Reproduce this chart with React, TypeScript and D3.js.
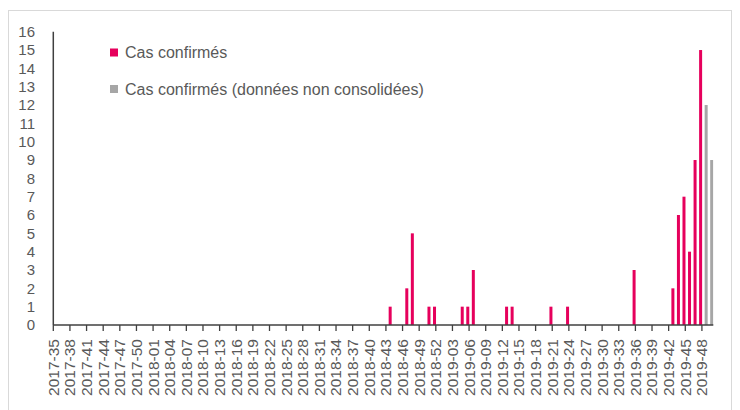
import React from "react";
import * as d3 from "d3";

const WIDTH = 740;
const HEIGHT = 410;

// weekly categories, 2017-35 .. 2019-50
const YEAR_SPANS: [number, number, number][] = [
  [2017, 35, 52],
  [2018, 1, 52],
  [2019, 1, 50],
];
const weeks: string[] = YEAR_SPANS.flatMap(([y, a, b]) =>
  d3.range(a, b + 1).map((w) => `${y}-${String(w).padStart(2, "0")}`)
);

// confirmed cases (non-zero weeks)
const confirmedWeeks = [
  "2018-44", "2018-47", "2018-48", "2018-51", "2018-52",
  "2019-05", "2019-06", "2019-07", "2019-13", "2019-14",
  "2019-21", "2019-24", "2019-36", "2019-43", "2019-44",
  "2019-45", "2019-46", "2019-47", "2019-48",
];
const confirmedValues = [1, 2, 5, 1, 1, 1, 1, 3, 1, 1, 1, 1, 3, 2, 6, 7, 4, 9, 15];

// confirmed cases, non consolidated data
const provisionalWeeks = ["2019-49", "2019-50"];
const provisionalValues = [12, 9];

const yTicks = d3.range(0, 17);
const legendLabels = ["Cas confirmés", "Cas confirmés (données non consolidées)"];

const PINK = "#E6005C";
const GREY = "#A6A6A6";
const TEXT = "#595959";
const FONT = "'Liberation Sans', Arial, sans-serif";

export default function App() {
  const x = d3.scalePoint<string>().domain(weeks).range([53.3, 713]);
  const y = d3.scaleLinear().domain([0, 16]).range([325, 31.7]);
  const barW = 3;
  const barOff = -2.8;

  const tickWeeks = weeks.filter((_, i) => i % 3 === 0);

  return (
    <svg
      width={WIDTH}
      height={HEIGHT}
      style={{ position: "absolute", left: 0, top: 0 }}
      fontFamily={FONT}
    >
      <rect x={8.5} y={10.5} width={723} height={405} fill="#fff" stroke="#D9D9D9" />

      <clipPath id="plot">
        <rect x={53} y={0} width={660.5} height={326} />
      </clipPath>

      <g clipPath="url(#plot)">
        {confirmedWeeks.map((w, i) => (
          <rect
            key={w}
            x={(x(w) as number) + barOff}
            y={y(confirmedValues[i])}
            width={barW}
            height={y(0) - y(confirmedValues[i])}
            fill={PINK}
          />
        ))}
        {provisionalWeeks.map((w, i) => (
          <rect
            key={w}
            x={(x(w) as number) + barOff}
            y={y(provisionalValues[i])}
            width={barW}
            height={y(0) - y(provisionalValues[i])}
            fill={GREY}
          />
        ))}
      </g>

      {/* y axis */}
      <line x1={53.3} x2={53.3} y1={31.7} y2={325} stroke="#404040" strokeWidth={1.5} />
      {yTicks.map((t) => (
        <text
          key={t}
          x={35}
          y={y(t)}
          dy="0.35em"
          textAnchor="end"
          fontSize={15}
          fill={TEXT}
        >
          {t}
        </text>
      ))}

      {/* x axis */}
      <line x1={53.3} x2={713.3} y1={325} y2={325} stroke="#404040" strokeWidth={1.5} />
      {tickWeeks.map((w) => {
        const px = x(w) as number;
        return (
          <g key={w}>
            <line x1={px} x2={px} y1={325} y2={331} stroke="#404040" strokeWidth={1.3} />
            <text
              transform={`translate(${px},339) rotate(-90)`}
              dy="0.35em"
              textAnchor="end"
              fontSize={15.5}
              fill={TEXT}
            >
              {w}
            </text>
          </g>
        );
      })}

      {/* legend */}
      {legendLabels.map((label, i) => (
        <g key={label} transform={`translate(110,${52.5 + i * 36.5})`}>
          <rect x={0} y={-4} width={8} height={8} fill={i === 0 ? PINK : GREY} />
          <text x={15} y={0} dy="0.35em" fontSize={16} fill={TEXT}>
            {label}
          </text>
        </g>
      ))}
    </svg>
  );
}
